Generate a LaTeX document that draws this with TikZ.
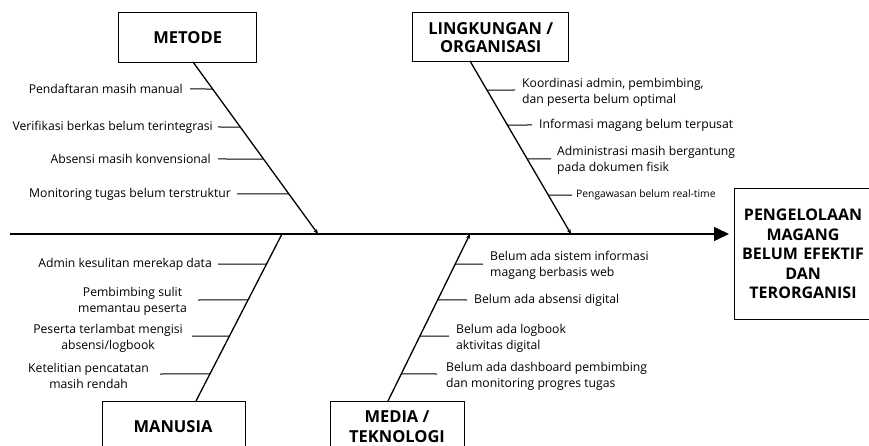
\documentclass[tikz,border=0pt]{standalone}
\usepackage{fontspec}
\setmainfont{Open Sans}
\usetikzlibrary{arrows.meta,calc}
\begin{document}
\begin{tikzpicture}[x=1pt,y=-1pt,
  lbl/.style={font=\fontsize{12.2}{16}\selectfont, inner sep=0pt},
  lblsm/.style={font=\fontsize{10.3}{12}\selectfont, inner sep=0pt},
  cat/.style={draw, line width=1.4pt, font=\fontsize{16.5}{18}\selectfont\bfseries, align=center},
  bone/.style={line width=1.3pt},
  rib/.style={line width=1pt},
  sarr/.style={-{Stealth[length=5pt,width=4pt]}}]
\useasboundingbox (0,0) rectangle (869,446);
\clip (0,0) rectangle (869,446);
% spine
\coordinate (tail) at (10,234);
\node[cat, minimum width=134pt, minimum height=131pt, anchor=north west, text width=130pt, font=\fontsize{16}{19.5}\selectfont\bfseries] (effect) at (734,188) {PENGELOLAAN\\MAGANG\\BELUM EFEKTIF\\DAN\\TERORGANISI};
\draw[line width=1.5pt, -{Triangle[length=15pt,width=14pt]}] (tail) -- (729,234);
% categories
\node[cat, minimum width=138pt, minimum height=50pt, anchor=north west] (metode) at (118,12) {METODE};
\node[cat, minimum width=156pt, minimum height=49pt, anchor=north west] (lingk) at (412,12) {LINGKUNGAN /\\ORGANISASI};
\node[cat, minimum width=143pt, minimum height=70pt, anchor=north west] (manusia) at (102,401) {};
\node[cat, draw=none, anchor=center] (manusiat) at (173,427) {MANUSIA};
\node[cat, minimum width=134pt, minimum height=70pt, anchor=north west] (media) at (330,401) {};
\node[cat, draw=none, anchor=center, font=\fontsize{16.5}{20}\selectfont\bfseries] (mediat) at (397,427) {MEDIA /\\TEKNOLOGI};
% bone ends
\coordinate (m0) at (193,62); \coordinate (m1) at (318,234);
\coordinate (l0) at (470,61); \coordinate (l1) at (571,234);
\coordinate (h0) at (196,401); \coordinate (h1) at (282,234);
\coordinate (t0) at (388,401); \coordinate (t1) at (470,234);
\draw[bone, sarr] (m0) -- (m1);
\draw[bone, sarr] (l0) -- (l1);
\draw[bone] (h0) -- (h1);
\draw[bone, sarr] (t0) -- (t1);
% METODE ribs
\node[lbl, anchor=east] (ma) at (183,89) {Pendaftaran masih manual};
\node[lbl, anchor=east] (mb) at (213,127) {Verifikasi berkas belum terintegrasi};
\node[lbl, anchor=east] (mc) at (211,159) {Absensi masih konvensional};
\node[lbl, anchor=east] (md) at (231,194) {Monitoring tugas belum terstruktur};
\draw[rib] ($(ma.east)+(7,0)$) -- ($(m0)!0.157!(m1)$);
\draw[rib] ($(mb.east)+(5,0)$) -- ($(m0)!0.378!(m1)$);
\draw[rib] ($(mc.east)+(7,0)$) -- ($(m0)!0.564!(m1)$);
\draw[rib] ($(md.east)+(6,0)$) -- ($(m0)!0.767!(m1)$);
% LINGKUNGAN ribs
\node[lbl, anchor=west, align=left] (la) at (522,92) {Koordinasi admin, pembimbing,\\dan peserta belum optimal};
\node[lbl, anchor=west] (lb) at (539,125) {Informasi magang belum terpusat};
\node[lbl, anchor=west, align=left] (lc) at (557,160) {Administrasi masih bergantung\\pada dokumen fisik};
\node[lblsm, anchor=west] (ld) at (576,195) {Pengawasan belum real-time};
\draw[rib] ($(l0)!0.168!(l1)$) -- (515,90);
\draw[rib] ($(l0)!0.370!(l1)$) -- ($(lb.west)+(-7,0)$);
\draw[rib] ($(l0)!0.566!(l1)$) -- (551,159);
\draw[rib] ($(l0)!0.775!(l1)$) -- ($(ld.west)+(-4,0)$);
% MANUSIA ribs
\node[lbl, anchor=east] (ha) at (212,264) {Admin kesulitan merekap data};
\node[lbl, anchor=east, align=center] (hb) at (187,301) {Pembimbing sulit\\memantau peserta};
\node[lbl, anchor=east, align=center] (hc) at (183,338) {Peserta terlambat mengisi\\absensi/logbook};
\node[lbl, anchor=east, align=center] (hd) at (149,376) {Ketelitian pencatatan\\masih rendah};
\draw[rib] (218,264) -- ($(h0)!0.82!(h1)$);
\draw[rib] (198,300) -- ($(h0)!0.605!(h1)$);
\draw[rib] (192,336) -- ($(h0)!0.389!(h1)$);
\draw[rib] (160,374) -- ($(h0)!0.162!(h1)$);
% MEDIA ribs
\node[lbl, anchor=west, align=left] (ta) at (490,265) {Belum ada sistem informasi\\magang berbasis web};
\node[lbl, anchor=west] (tb) at (474,300) {Belum ada absensi digital};
\node[lbl, anchor=west, align=left] (tc) at (456,338) {Belum ada logbook\\aktivitas digital};
\node[lbl, anchor=west, align=left] (td) at (446,376) {Belum ada dashboard pembimbing\\dan monitoring progres tugas};
\draw[rib] ($(t0)!0.82!(t1)$) -- (483,264);
\draw[rib] ($(t0)!0.605!(t1)$) -- ($(tb.west)+(-7,0)$);
\draw[rib] ($(t0)!0.389!(t1)$) -- (449,336);
\draw[rib] ($(t0)!0.162!(t1)$) -- (437,374);
\end{tikzpicture}
\end{document}
